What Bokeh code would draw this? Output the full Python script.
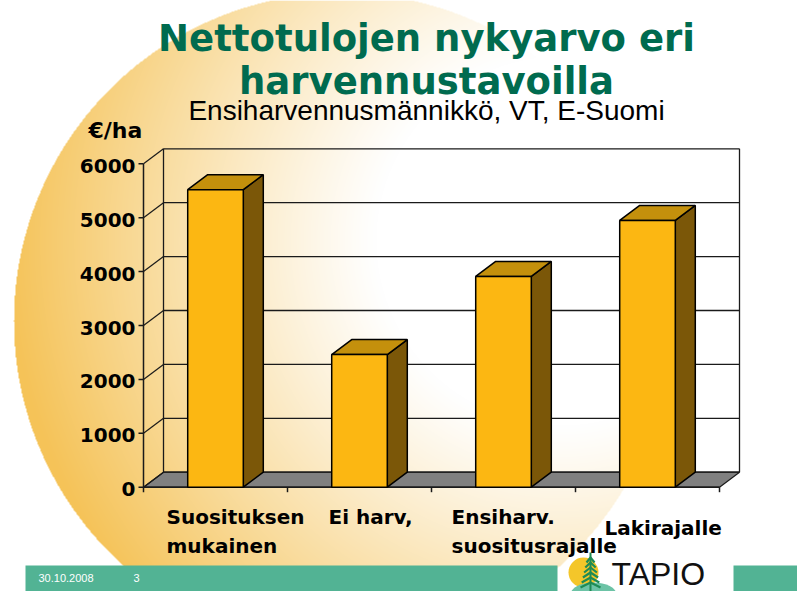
import numpy as np
from bokeh.plotting import figure
from bokeh.models import Range1d
from bokeh.core.properties import value
from bokeh.embed import file_html
from bokeh.resources import INLINE

# ---------------- data ----------------
categories = ["Suosituksen\nmukainen", "Ei harv,", "Ensiharv.\nsuositusrajalle", "Lakirajalle"]
values = [5520, 2460, 3910, 4950]
y_ticks = [0, 1000, 2000, 3000, 4000, 5000, 6000]
y_tick_labels = ["0", "1000", "2000", "3000", "4000", "5000", "6000"]
title_lines = ["Nettotulojen nykyarvo eri", "harvennustavoilla"]
subtitle = "Ensiharvennusmännikkö, VT, E-Suomi"
unit_label = "€/ha"
footer_date = "30.10.2008"
footer_page = "3"
logo_text = "TAPIO"

# ---------------- layout ----------------
W, H = 797, 591
X0_PX = 143.0        # screen x of the front value axis
CAT_PX = 144.0       # screen px per category
Y0_PX = 486.7        # screen y (from top) of value 0
PX_PER_UNIT = 0.0539 # screen px per euro
DEPTH_X_PX, DEPTH_Y_PX = 20.0, 15.0
BAR_HALF = 0.193     # half bar width in category units
label_dx_px = [23, 41, 20, 29]
label_mid_px = [516, 516, 516, 527]   # visual middle of first label line
LINE_GAP = 29


def X(px):
    return (px - X0_PX) / CAT_PX


def Y(py):
    return (Y0_PX - py) / PX_PER_UNIT


DX = DEPTH_X_PX / CAT_PX
DY = DEPTH_Y_PX / PX_PER_UNIT
n = len(values)
ymax = y_ticks[-1]

p = figure(width=W, height=H, x_range=Range1d(X(0), X(W)), y_range=Range1d(Y(H), Y(0)),
           output_backend="svg", toolbar_location=None, min_border=0,
           x_axis_location=None, y_axis_location=None)
p.grid.visible = False
p.outline_line_color = None
p.background_fill_color = "white"
p.border_fill_color = "white"

# ---------------- background sun gradient ----------------
yy, xx = np.mgrid[0:H, 0:W]
inside = (xx - 341) ** 2 + (yy - 320) ** 2 <= 328 ** 2
d = np.hypot(xx - 560, yy - 240)
s = np.clip((d - 185) / 370.0, 0, 1) ** 1.1
edge = (245, 195, 88)
img = np.zeros((H, W), dtype=np.uint32)
view = img.view(dtype=np.uint8).reshape((H, W, 4))
view[..., 0] = (255 - (255 - edge[0]) * s).astype(np.uint8)
view[..., 1] = (255 - (255 - edge[1]) * s).astype(np.uint8)
view[..., 2] = (255 - (255 - edge[2]) * s).astype(np.uint8)
view[..., 3] = np.where(inside, 255, 0).astype(np.uint8)
img = img[::-1].copy()
p.image_rgba(image=[img], x=X(0), y=Y(H), dw=X(W) - X(0), dh=Y(0) - Y(H))

# ---------------- footer band ----------------
teal = "#52B394"
p.quad(left=[X(25), X(733)], right=[X(557), X(W)], bottom=[Y(H), Y(H)], top=[Y(565), Y(565)],
       fill_color=teal, line_color=None)
p.text(x=[X(38), X(133)], y=[Y(577), Y(577)], text=[footer_date, footer_page],
       text_font=value("Liberation Sans"), text_font_size=value("11px"),
       text_color="white", text_baseline="middle", text_align="left")

# logo
p.scatter(x=[X(583)], y=[Y(572)], size=30, marker="circle", fill_color="#F4C62A", line_color=None)
p.ellipse(x=[X(593)], y=[Y(594)], width=46 / CAT_PX, height=24 / PX_PER_UNIT,
          fill_color="#6CC3A6", line_color=None)
tree_green = "#1E8B55"
p.segment(x0=[X(590)], y0=[Y(552)], x1=[X(590)], y1=[Y(591)], line_color=tree_green, line_width=2)
bx, by = [], []
for k in range(6):
    yb = 557 + 5 * k
    hw = 4 + 1.2 * k
    bx.append([X(590 - hw), X(590), X(590 + hw)])
    by.append([Y(yb + 5), Y(yb), Y(yb + 5)])
p.multi_line(xs=bx, ys=by, line_color=tree_green, line_width=2.2)
p.text(x=[X(611)], y=[Y(573)], text=[logo_text], text_font=value("Liberation Sans"),
       text_font_size=value("32px"), text_color="#111111", text_baseline="middle")

# ---------------- 3D chart frame ----------------
line_col = "#1A1A1A"
# floor
p.patch(x=[0, n, n + DX, DX], y=[0, 0, DY, DY], fill_color="#808080", line_color=line_col, line_width=1.2)
# back wall gridlines
p.segment(x0=[DX] * len(y_ticks), y0=[t + DY for t in y_ticks],
          x1=[n + DX] * len(y_ticks), y1=[t + DY for t in y_ticks], line_color=line_col, line_width=1.3)
# back wall verticals
p.segment(x0=[DX, n + DX], y0=[DY, DY], x1=[DX, n + DX], y1=[ymax + DY, ymax + DY],
          line_color=line_col, line_width=1.3)
# side wall diagonals
p.segment(x0=[0] * len(y_ticks), y0=y_ticks, x1=[DX] * len(y_ticks), y1=[t + DY for t in y_ticks],
          line_color=line_col, line_width=1.2)
# front axis lines
p.segment(x0=[0, 0], y0=[0, 0], x1=[0, n], y1=[ymax, 0], line_color=line_col, line_width=1.5)
# value ticks
p.segment(x0=[-5 / CAT_PX] * len(y_ticks), y0=y_ticks, x1=[0] * len(y_ticks), y1=y_ticks,
          line_color=line_col, line_width=1.5)
# category ticks
cat_edges = list(range(n + 1))
p.segment(x0=cat_edges, y0=[0] * (n + 1), x1=cat_edges, y1=[-5 / PX_PER_UNIT] * (n + 1),
          line_color=line_col, line_width=1.5)

# ---------------- bars ----------------
centers = [i + 0.5 for i in range(n)]
side_xs, side_ys, top_xs, top_ys = [], [], [], []
for c, v in zip(centers, values):
    side_xs.append([c + BAR_HALF, c + BAR_HALF + DX, c + BAR_HALF + DX, c + BAR_HALF])
    side_ys.append([0, DY, v + DY, v])
    top_xs.append([c - BAR_HALF, c + BAR_HALF, c + BAR_HALF + DX, c - BAR_HALF + DX])
    top_ys.append([v, v, v + DY, v + DY])
p.patches(xs=side_xs, ys=side_ys, fill_color="#7B5708", line_color="black", line_width=1.5)
p.patches(xs=top_xs, ys=top_ys, fill_color="#C4900C", line_color="black", line_width=1.5)
p.quad(left=[c - BAR_HALF for c in centers], right=[c + BAR_HALF for c in centers],
       bottom=[0] * n, top=values, fill_color="#FCB712", line_color="black", line_width=1.5)

# ---------------- texts ----------------
p.text(x=[-8 / CAT_PX] * len(y_ticks), y=[t - 2 / PX_PER_UNIT for t in y_ticks], text=y_tick_labels,
       text_font=value("DejaVu Sans"), text_font_size=value("20px"), text_font_style="bold",
       text_color="black", text_align="right", text_baseline="middle")

lx, ly, lt = [], [], []
for i, cat in enumerate(categories):
    for j, line in enumerate(cat.split("\n")):
        lx.append(i + label_dx_px[i] / CAT_PX)
        ly.append(Y(label_mid_px[i] + j * LINE_GAP))
        lt.append(line)
p.text(x=lx, y=ly, text=lt, text_font=value("DejaVu Sans"), text_font_size=value("20px"),
       text_font_style="bold", text_color="black", text_align="left", text_baseline="middle")

p.text(x=[X(426), X(426)], y=[Y(38), Y(81)], text=title_lines,
       text_font=value("DejaVu Sans"), text_font_size=value("37px"), text_font_style="bold",
       text_color="#006B4F", text_align="center", text_baseline="middle")
p.text(x=[X(426)], y=[Y(110)], text=[subtitle], text_font=value("Liberation Sans"),
       text_font_size=value("28px"), text_color="black", text_align="center",
       text_baseline="middle")
p.text(x=[X(88)], y=[Y(130)], text=[unit_label], text_font=value("DejaVu Sans"),
       text_font_size=value("22px"), text_font_style="bold", text_color="black",
       text_align="left", text_baseline="middle")

open("out.html", "w").write(file_html(p, INLINE))
